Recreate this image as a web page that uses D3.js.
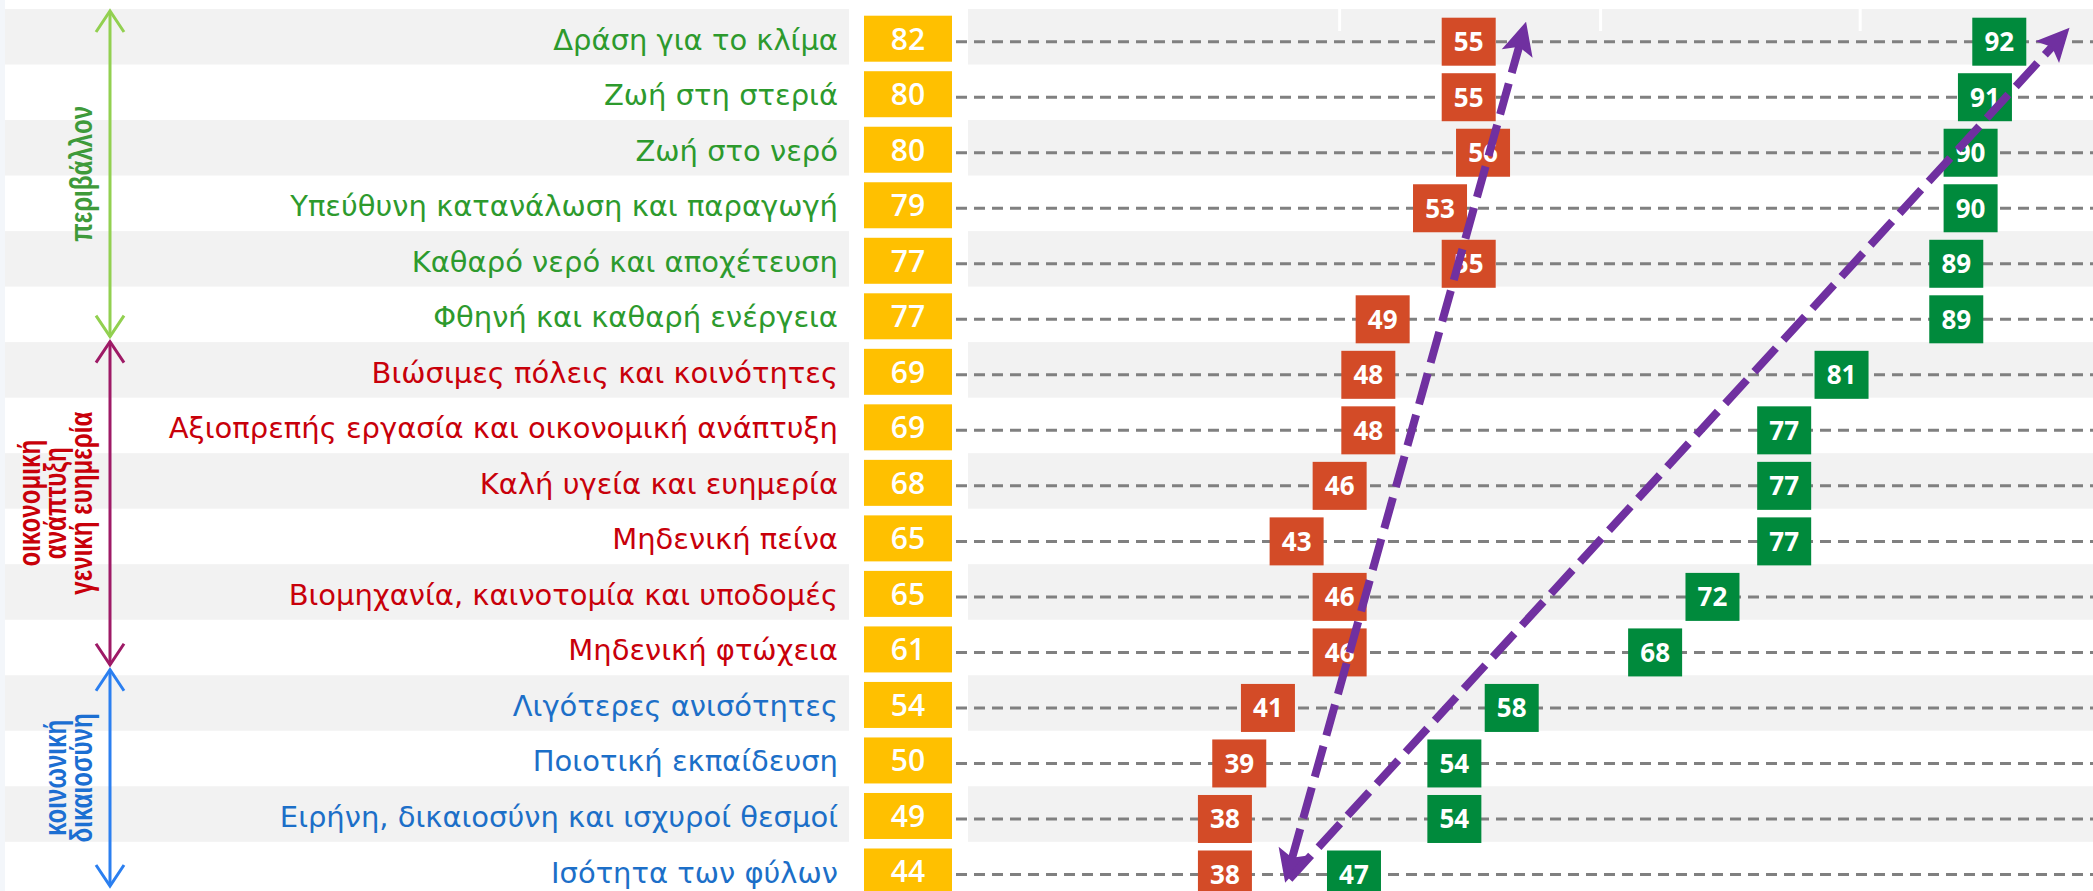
<!DOCTYPE html>
<html>
<head>
<meta charset="utf-8">
<script src="https://cdn.jsdelivr.net/npm/d3@7"></script>
<style>
html, body { margin: 0; padding: 0; background: #fff; overflow: hidden; }
</style>
</head>
<body>
<svg id="chart" width="2093" height="891"></svg>
<script>
// ============================================================================
// data
// ============================================================================

const goals = [
    "Δράση για το κλίμα",
    "Ζωή στη στεριά",
    "Ζωή στο νερό",
    "Υπεύθυνη κατανάλωση και παραγωγή",
    "Καθαρό νερό και αποχέτευση",
    "Φθηνή και καθαρή ενέργεια",
    "Βιώσιμες πόλεις και κοινότητες",
    "Αξιοπρεπής εργασία και οικονομική ανάπτυξη",
    "Καλή υγεία και ευημερία",
    "Μηδενική πείνα",
    "Βιομηχανία, καινοτομία και υποδομές",
    "Μηδενική φτώχεια",
    "Λιγότερες ανισότητες",
    "Ποιοτική εκπαίδευση",
    "Ειρήνη, δικαιοσύνη και ισχυροί θεσμοί",
    "Ισότητα των φύλων"
];

// yellow column
const avgScores  = [82, 80, 80, 79, 77, 77, 69, 69, 68, 65, 65, 61, 54, 50, 49, 44];
// red boxes
const lowScores  = [55, 55, 56, 53, 55, 49, 48, 48, 46, 43, 46, 46, 41, 39, 38, 38];
// green boxes
const highScores = [92, 91, 90, 90, 89, 89, 81, 77, 77, 77, 72, 68, 58, 54, 54, 47];

// which group each row belongs to
const groupNames  = ["env", "econ", "social"];
const groupLines  = [["περιβάλλον"], ["οικονομική", "ανάπτυξη", "γενική ευημερία"], ["κοινωνική", "δικαιοσύνη"]];
const groupFirst  = [0, 6, 12];
const groupLast   = [5, 11, 15];

// faint marks of the hidden value axis
const gridValues = [46, 64.2, 82.3];

// purple trend arrows (value, row index)
const trendArrows = [
    { x1: 42.2, r1: 15.15, x2: 59.0, r2: -0.36, both: true },
    { x1: 42.5, r1: 15.08, x2: 96.9, r2: -0.25, both: false }
];

// ============================================================================
// styles
// ============================================================================

const labelColor = { env: "#2d9a2d", econ: "#c8000a", social: "#1c6fc8" };
const groupTextColor = { env: "#3e9a3a", econ: "#c8000a", social: "#1c6fd2" };
const groupArrowColor = { env: "#92d050", econ: "#9e1a66", social: "#2b7ff0" };

const bandColor = "#f2f2f2";
const yellow = "#ffc000";
const red = "#d34b27";
const green = "#008a3c";
const purple = "#7030a0";

// ============================================================================
// chart
// ============================================================================

const width = 2093, height = 891;
const svg = d3.select("#chart");

const pitch = 55.52;
const y = d3.scaleBand()
    .domain(d3.range(goals.length))
    .range([9, 9 + pitch * goals.length])
    .paddingInner(0);
const rowCenter = i => y(i) + 32.7;
const rowY = d3.scaleLinear().domain([0, goals.length - 1]).range([rowCenter(0), rowCenter(goals.length - 1)]);

const x = d3.scaleLinear().domain([0, 100]).range([680, 2114]);

function groupOf(i) {
    for (let g = 0; g < groupNames.length; g++) {
        if (i >= groupFirst[g] && i <= groupLast[g]) return groupNames[g];
    }
}

const rows = goals.map((name, i) => ({
    i, name, avg: avgScores[i], low: lowScores[i], high: highScores[i], group: groupOf(i)
}));

// thin pale strip at the far left
svg.append("rect").attr("x", 0).attr("y", 0).attr("width", 5).attr("height", height).attr("fill", "#f3f6fa");

// alternating row bands
const bands = svg.append("g");
bands.selectAll(".lb")
    .data(rows.filter(d => d.i % 2 === 0))
    .join("rect")
    .attr("x", 5).attr("width", 844)
    .attr("y", d => y(d.i)).attr("height", y.bandwidth())
    .attr("fill", bandColor);
bands.selectAll(".cb")
    .data(rows.filter(d => d.i % 2 === 0))
    .join("rect")
    .attr("class", "cb")
    .attr("x", 968).attr("width", width - 968)
    .attr("y", d => y(d.i)).attr("height", y.bandwidth())
    .attr("fill", bandColor);

// grid marks at the top
svg.append("g").selectAll("line")
    .data(gridValues)
    .join("line")
    .attr("x1", d => x(d)).attr("x2", d => x(d))
    .attr("y1", y(0)).attr("y2", y(0) + 22)
    .attr("stroke", "#fff").attr("stroke-width", 3);

// dashed guide lines
svg.append("g").selectAll("line")
    .data(rows)
    .join("line")
    .attr("x1", 956).attr("x2", width)
    .attr("y1", d => rowCenter(d.i)).attr("y2", d => rowCenter(d.i))
    .attr("stroke", "#808080").attr("stroke-width", 3)
    .attr("stroke-dasharray", "11,7");

// value boxes
function drawBoxes(key, color) {
    const g = svg.append("g").selectAll("g")
        .data(rows)
        .join("g")
        .attr("transform", d => `translate(${x(d[key])},${rowCenter(d.i)})`);
    g.append("rect")
        .attr("x", -27).attr("y", -24).attr("width", 54).attr("height", 48)
        .attr("fill", color);
    g.append("text")
        .attr("text-anchor", "middle")
        .attr("dy", "0.36em")
        .attr("fill", "#fff")
        .attr("font-family", "'Open Sans', sans-serif")
        .attr("font-weight", 700)
        .attr("font-size", 26)
        .text(d => d[key]);
}
drawBoxes("low", red);
drawBoxes("high", green);

// yellow column
const yg = svg.append("g").selectAll("g")
    .data(rows)
    .join("g")
    .attr("transform", d => `translate(908,${rowCenter(d.i) - 3})`);
yg.append("rect")
    .attr("x", -44).attr("y", -23).attr("width", 88).attr("height", 46)
    .attr("fill", yellow);
yg.append("text")
    .attr("text-anchor", "middle")
    .attr("dy", "0.36em")
    .attr("fill", "#fff")
    .attr("font-family", "'Open Sans', sans-serif")
    .attr("font-weight", 600)
    .attr("font-size", 30)
    .text(d => d.avg);

// goal labels
svg.append("g").selectAll("text")
    .data(rows)
    .join("text")
    .attr("x", 838)
    .attr("y", d => rowCenter(d.i) - 2)
    .attr("text-anchor", "end")
    .attr("dominant-baseline", "central")
    .attr("font-family", "'DejaVu Sans', sans-serif")
    .attr("font-size", 29)
    .attr("fill", d => labelColor[d.group])
    .text(d => d.name);

// group arrows and labels on the left
const arrowY = d3.scaleLinear().domain([0, goals.length]).range([11, 886]);
const ax = 110;
groupNames.forEach((name, g) => {
    const y1 = arrowY(groupFirst[g]) + (groupFirst[g] > 0 ? 2.5 : 0);
    const y2 = arrowY(groupLast[g] + 1) - (groupLast[g] < goals.length - 1 ? 2.5 : 0);
    const col = groupArrowColor[name];
    const ga = svg.append("g")
        .attr("fill", "none").attr("stroke", col).attr("stroke-width", 3);
    ga.append("line").attr("x1", ax).attr("x2", ax).attr("y1", y1).attr("y2", y2);
    ga.append("polyline").attr("points", `${ax - 14},${y1 + 21} ${ax},${y1} ${ax + 14},${y1 + 21}`);
    ga.append("polyline").attr("points", `${ax - 14},${y2 - 21} ${ax},${y2} ${ax + 14},${y2 - 21}`);

    // condensed bold labels, rotated
    const lines = groupLines[g];
    const mid = (y1 + y2) / 2;
    svg.append("g").selectAll("text")
        .data(lines)
        .join("text")
        .attr("transform", (d, k) => `translate(${81 - (lines.length - 1 - k) * 26},${mid}) rotate(-90) scale(0.78,1)`)
        .attr("text-anchor", "middle")
        .attr("dominant-baseline", "central")
        .attr("font-family", "'Liberation Sans', Arial, sans-serif")
        .attr("font-weight", 700)
        .attr("font-size", 31)
        .attr("fill", groupTextColor[name])
        .text(d => d);
});

// purple trend arrows
const head = "M0,0 L-33,-16 L-26,0 L-33,16 Z";
trendArrows.forEach(a => {
    const p1 = [x(a.x1), rowY(a.r1)];
    const p2 = [x(a.x2), rowY(a.r2)];
    const ang = Math.atan2(p2[1] - p1[1], p2[0] - p1[0]);
    const len = Math.hypot(p2[0] - p1[0], p2[1] - p1[1]);
    const ux = (p2[0] - p1[0]) / len, uy = (p2[1] - p1[1]) / len;
    const s = a.both ? 24 : 0;
    svg.append("line")
        .attr("x1", p1[0] + ux * s).attr("y1", p1[1] + uy * s)
        .attr("x2", p2[0] - ux * 24).attr("y2", p2[1] - uy * 24)
        .attr("stroke", purple).attr("stroke-width", 8)
        .attr("stroke-dasharray", "32,11");
    svg.append("path")
        .attr("d", head)
        .attr("fill", purple)
        .attr("transform", `translate(${p2[0]},${p2[1]}) rotate(${ang * 180 / Math.PI})`);
    if (a.both) {
        svg.append("path")
            .attr("d", head)
            .attr("fill", purple)
            .attr("transform", `translate(${p1[0]},${p1[1]}) rotate(${ang * 180 / Math.PI + 180})`);
    }
});
</script>
</body>
</html>
